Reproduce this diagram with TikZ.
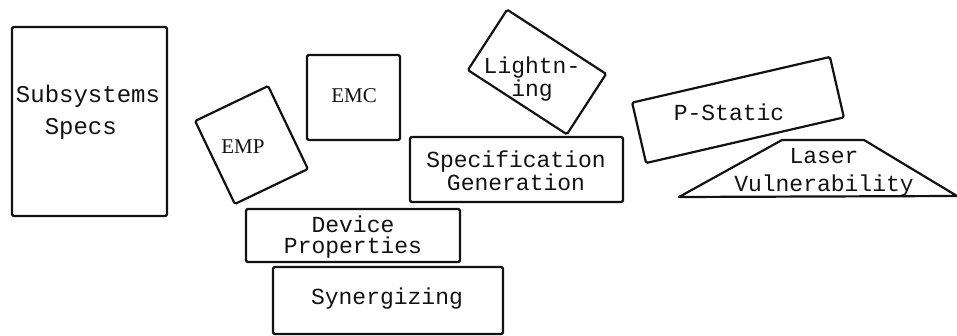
\documentclass[tikz,border=0pt]{standalone}
\usepackage{fontspec}
\setmainfont{Liberation Serif}
\setmonofont{Liberation Mono}
\usepackage{tikz}
\usetikzlibrary{positioning}
\definecolor{ink}{RGB}{18, 18, 18}
\tikzset{
  baseblock/.style={
    rectangle, draw=ink, line width=2.2pt, rounded corners=1.5pt,
    inner sep=0pt
  },
  tiltblock/.style={baseblock, rotate=#1},
  slopeline/.style={draw=ink, line width=2.2pt, line join=round},
  typetext/.style={
    align=center, inner sep=0pt, text=ink,
    font=\ttfamily\fontsize{23}{21}\selectfont
  },
  serifword/.style={
    inner sep=0pt, text=ink, font=\rmfamily\fontsize{21}{22}\selectfont
  }
}

\begin{document}
\begin{tikzpicture}[x=1pt, y=-1pt]
  \useasboundingbox (0,0) rectangle (957,336);

  % Left: subsystem specs
  \node[baseblock, minimum width=155, minimum height=189] (subsys) at (89.5,121.5) {};
  \node[typetext, align=left, font=\ttfamily\fontsize{24}{32}\selectfont] (subsystext) at (88,112) {Subsystems\\\phantom{Su}Specs};

  % Middle: tilted EMP and upright EMC
  \node[tiltblock=25.6, minimum width=81, minimum height=92] (empbox) at (251.5,145) {};
  \node[serifword] (emp) at (243,147) {EMP};
  \node[baseblock, minimum width=93, minimum height=85] (emcbox) at (353.5,97.5) {};
  \node[serifword] (emc) at (354,96) {EMC};

  % Lightning over specification generation
  \node[tiltblock=-33, minimum width=118, minimum height=72] (lightbox) at (537,72) {};
  \node[typetext] (lightning) at (532,79) {Lightn-\\ing};
  \node[baseblock, minimum width=213, minimum height=65] (specgen) at (516.5,169.5) {};
  \node[typetext] (specgentext) at (516,171) {Specification\\Generation};

  % Right: P-Static and laser
  \node[tiltblock=13, minimum width=203, minimum height=62] (pstaticbox) at (738,110) {};
  \node[typetext] (pstatic) at (729,112) {P-Static};
  \coordinate (laserbl) at (679,197);
  \coordinate (lasertl) at (782,140);
  \coordinate (lasertr) at (864,140);
  \coordinate (laserbr) at (957,196);
  \draw[slopeline] (laserbl) -- (lasertl) -- (lasertr) -- (laserbr) -- cycle;
  \node[typetext, font=\ttfamily\fontsize{23}{28}\selectfont] (laser) at (824,172) {Laser\\Vulnerability};

  % Bottom: device properties and synergizing
  \node[baseblock, minimum width=214, minimum height=53] (device) at (353,235.5) {};
  \node[typetext] (devicetext) at (353,237) {Device\\Properties};
  \node[baseblock, minimum width=230, minimum height=67] (synerg) at (388,300.5) {};
  \node[typetext] (synergtext) at (387,299) {Synergizing};

\end{tikzpicture}
\end{document}
